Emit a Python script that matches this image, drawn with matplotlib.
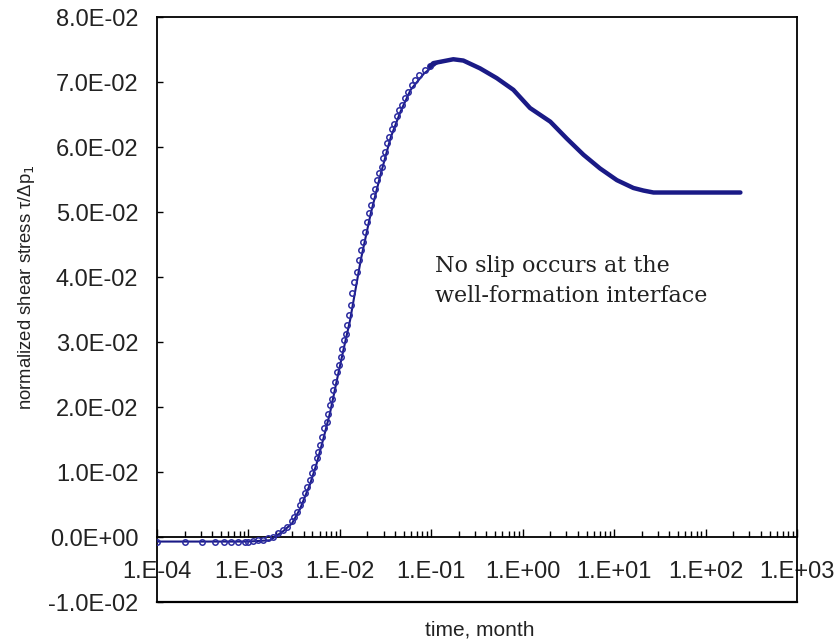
import matplotlib
matplotlib.use('Agg')
import matplotlib.pyplot as plt
from matplotlib.ticker import FixedLocator, FixedFormatter, LogLocator, NullFormatter

# numerical solution, open circles (early part)
t_num = [1e-4, 2e-4, 3.1e-4, 4.3e-4, 5.4e-4, 6.5e-4, 7.7e-4, 9.1e-4, 1.0e-3,
         1.13e-3, 1.28e-3, 1.45e-3, 1.65e-3, 1.87e-3, 2.12e-3, 2.41e-3, 2.62e-3,
         2.97e-3, 3.18e-3, 3.37e-3, 3.67e-3, 3.82e-3, 4.15e-3, 4.4e-3, 4.71e-3,
         4.92e-3, 5.21e-3, 5.57e-3, 5.81e-3, 6.07e-3, 6.43e-3, 6.7e-3, 7.17e-3,
         7.47e-3, 7.8e-3, 8.14e-3, 8.48e-3, 8.85e-3, 9.37e-3, 9.86e-3, 1.02e-2,
         1.06e-2, 1.12e-2, 1.17e-2, 1.21e-2, 1.27e-2, 1.31e-2, 1.35e-2, 1.43e-2,
         1.53e-2, 1.63e-2, 1.69e-2, 1.81e-2, 1.88e-2, 2.0e-2, 2.1e-2, 2.18e-2,
         2.29e-2, 2.43e-2, 2.57e-2, 2.7e-2, 2.87e-2, 2.99e-2, 3.12e-2, 3.3e-2,
         3.47e-2, 3.69e-2, 3.91e-2, 4.19e-2, 4.47e-2, 4.75e-2, 5.15e-2, 5.61e-2,
         6.1e-2, 6.63e-2, 7.39e-2, 8.53e-2, 9.68e-2]
tau_num = [-0.0007, -0.0007, -0.0007, -0.0007, -0.0007, -0.0007, -0.0007, -0.0007, -0.0007,
           -0.0006, -0.0005, -0.0004, -0.0002, 0.0, 0.0006, 0.0011, 0.0016,
           0.0024, 0.0031, 0.0039, 0.0049, 0.0057, 0.0068, 0.0077, 0.0088,
           0.0098, 0.0108, 0.0121, 0.0131, 0.0142, 0.0154, 0.0167, 0.0177,
           0.0190, 0.0203, 0.0213, 0.0226, 0.0239, 0.0254, 0.0265, 0.0277,
           0.0290, 0.0303, 0.0313, 0.0326, 0.0342, 0.0357, 0.0375, 0.0393,
           0.0408, 0.0426, 0.0441, 0.0454, 0.0470, 0.0484, 0.0498, 0.0511,
           0.0524, 0.0536, 0.0549, 0.0560, 0.0570, 0.0583, 0.0593, 0.0606,
           0.0616, 0.0627, 0.0636, 0.0647, 0.0657, 0.0665, 0.0675, 0.0685,
           0.0695, 0.0703, 0.0711, 0.0718, 0.0724]

# numerical solution, later part (circles so dense they form a thick band)
t_num_dense = [0.0968, 0.105, 0.174, 0.224, 0.341, 0.519, 0.789, 1.2, 2.0, 3.03,
               4.62, 7.0, 10.7, 16.2, 20.9, 26.9, 240]
tau_num_dense = [0.0724, 0.0729, 0.0735, 0.0733, 0.0721, 0.0706, 0.0688, 0.0660, 0.0639, 0.0613,
                 0.0588, 0.0567, 0.0549, 0.0537, 0.0533, 0.0530, 0.0530]

# analytical solution, solid line
t_line = [1e-4, 1.0e-3, 1.72e-3, 2.4e-3, 3.0e-3, 3.66e-3, 4.71e-3, 5.57e-3, 6.59e-3,
          7.8e-3, 9.23e-3, 1.09e-2, 1.29e-2, 1.69e-2, 2.17e-2, 2.79e-2, 3.6e-2,
          4.62e-2, 5.94e-2, 8.3e-2, 0.116, 0.174, 0.224, 0.341, 0.519, 0.789, 1.2,
          2.0, 3.03, 4.62, 7.0, 10.7, 16.2, 20.9, 26.9, 240]
tau_line = [-0.0007, -0.0007, -0.0005, 0.0009, 0.0021, 0.0043, 0.0081, 0.0113, 0.0151,
            0.0191, 0.0240, 0.0287, 0.0333, 0.0426, 0.0497, 0.0558, 0.0615,
            0.0655, 0.0688, 0.0713, 0.0729, 0.0735, 0.0733, 0.0721, 0.0706, 0.0688, 0.0660,
            0.0639, 0.0613, 0.0588, 0.0567, 0.0549, 0.0537, 0.0533, 0.0530, 0.0530]

x_ticks = [1e-4, 1e-3, 1e-2, 1e-1, 1e0, 1e1, 1e2, 1e3]
x_tick_labels = ['1.E-04', '1.E-03', '1.E-02', '1.E-01', '1.E+00', '1.E+01', '1.E+02', '1.E+03']
y_ticks = [-0.01, 0.0, 0.01, 0.02, 0.03, 0.04, 0.05, 0.06, 0.07, 0.08]
y_tick_labels = ['-1.0E-02', '0.0E+00', '1.0E-02', '2.0E-02', '3.0E-02', '4.0E-02',
                 '5.0E-02', '6.0E-02', '7.0E-02', '8.0E-02']

LINE_COLOR = '#1a1a86'
MARK_COLOR = '#2b2ba0'
TEXT_COLOR = '#222222'
TICK_FONT = 'Liberation Sans'

fig = plt.figure(figsize=(8.37, 6.42), dpi=100)
ax = fig.add_axes([0.1876, 0.0623, 0.7647, 0.9112])

ax.plot(t_line, tau_line, color=LINE_COLOR, linewidth=1.5, zorder=3)
ax.plot(t_num, tau_num, linestyle='none', marker='o', markersize=3.9,
        markerfacecolor='none', markeredgecolor=MARK_COLOR, markeredgewidth=1.1, zorder=4)
ax.plot(t_num_dense, tau_num_dense, color=LINE_COLOR, linewidth=3.2,
        solid_capstyle='round', zorder=4)

ax.set_xscale('log')
ax.set_xlim(1e-4, 1e3)
ax.set_ylim(-0.01, 0.08)

# x axis crosses at y = 0, ticks pointing up
ax.spines['bottom'].set_position(('data', 0))
for s in ['bottom', 'left', 'right', 'top']:
    ax.spines[s].set_linewidth(1.3)
ax.plot([0, 1], [0, 0], transform=ax.transAxes, color='black', linewidth=1.6, clip_on=False)

ax.xaxis.set_major_locator(FixedLocator(x_ticks))
ax.xaxis.set_major_formatter(FixedFormatter(x_tick_labels))
ax.xaxis.set_minor_locator(LogLocator(base=10, subs=range(2, 10), numticks=20))
ax.xaxis.set_minor_formatter(NullFormatter())
ax.tick_params(axis='x', which='major', direction='in', length=6, width=1, pad=17,
               labelsize=17)
ax.tick_params(axis='x', which='minor', direction='in', length=4, width=1)

ax.yaxis.set_major_locator(FixedLocator(y_ticks))
ax.yaxis.set_major_formatter(FixedFormatter(y_tick_labels))
ax.tick_params(axis='y', which='major', direction='in', length=4, width=1, pad=13.5,
               labelsize=17)

for lab in ax.get_xticklabels() + ax.get_yticklabels():
    lab.set_fontfamily(TICK_FONT)
    lab.set_color(TEXT_COLOR)

fig.text(0.032, 0.553, r'normalized shear stress τ/Δp$_1$', rotation=90,
         ha='center', va='center', fontsize=13.3,
         family=['Liberation Sans Narrow', 'Liberation Sans', 'DejaVu Sans'], color=TEXT_COLOR)
fig.text(0.573, 0.019, 'time, month', ha='center', va='center', fontsize=15,
         family=TICK_FONT, color=TEXT_COLOR)

ax.text(0.434, 0.5646, 'No slip occurs at the', transform=ax.transAxes,
        ha='left', va='baseline', fontsize=16, family='DejaVu Serif', color=TEXT_COLOR)
ax.text(0.434, 0.5133, 'well-formation interface', transform=ax.transAxes,
        ha='left', va='baseline', fontsize=16, family='DejaVu Serif', color=TEXT_COLOR)

fig.savefig('out.png', dpi=100)
